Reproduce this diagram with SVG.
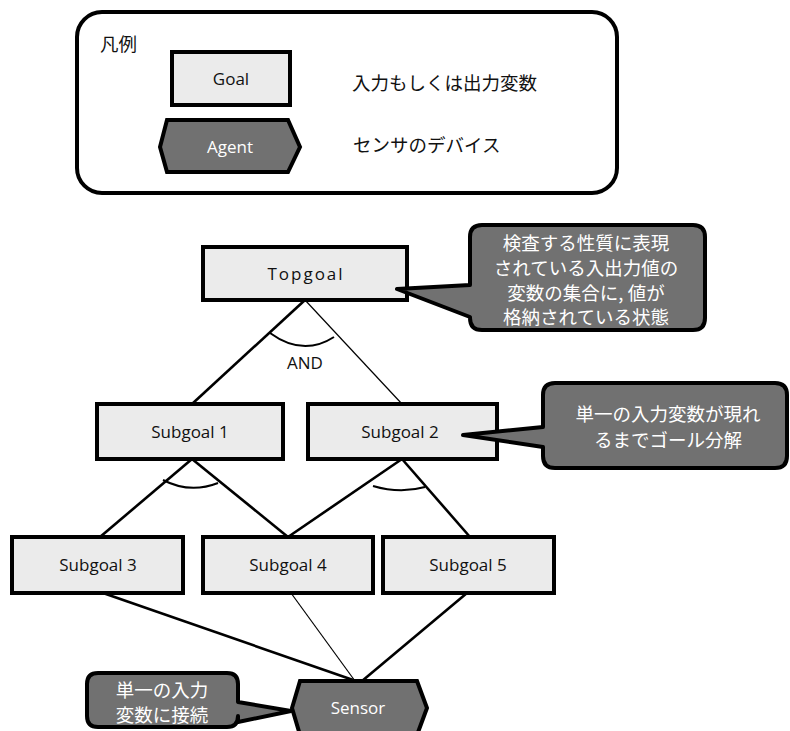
<svg xmlns="http://www.w3.org/2000/svg" width="790" height="731" viewBox="0 0 790 731">
  <style>
    .goal { fill: #ebebeb; stroke: #000; stroke-width: 4; }
    .agent { fill: #717171; stroke: #000; stroke-width: 4; stroke-linejoin: miter; }
    .callout { fill: #717171; stroke: #000; stroke-width: 4; stroke-linejoin: round; }
    .lbl { font-family: "Open Sans", "Liberation Sans", sans-serif; font-size: 17px; fill: #111; text-anchor: middle; }
    .lbl-w { font-family: "Open Sans", "Liberation Sans", sans-serif; font-size: 17px; fill: #fff; text-anchor: middle; }
    .jp { font-family: "Noto Sans CJK JP", sans-serif; font-size: 18.5px; fill: #111; }
    .jp-w { font-family: "Noto Sans CJK JP", sans-serif; font-size: 18.5px; fill: #fff; text-anchor: middle; }
    .thick { stroke: #000; stroke-width: 2.6; fill: none; }
    .thin { stroke: #000; stroke-width: 1.2; fill: none; }
    .arc { stroke: #000; stroke-width: 2; fill: none; }
  </style>

  <!-- legend -->
  <g id="legend">
    <rect x="77" y="12" width="540" height="181" rx="25" ry="25" fill="#fff" stroke="#000" stroke-width="4"/>
    <text class="jp" x="100" y="51" font-size="17">凡例</text>
    <rect class="goal" x="172" y="52" width="118" height="53"/>
    <text class="lbl" x="231" y="85">Goal</text>
    <text class="jp" x="352" y="90">入力もしくは出力変数</text>
    <polygon class="agent" points="160,147 167,120 288,120 300,147 288,172 167,172"/>
    <text class="lbl-w" x="230" y="153">Agent</text>
    <text class="jp" x="353" y="152">センサのデバイス</text>
  </g>

  <!-- connectors -->
  <g id="connectors">
    <line class="thick" x1="305" y1="300" x2="192" y2="404"/>
    <line class="thin" x1="305" y1="300" x2="402" y2="404"/>
    <path class="arc" d="M270,333 Q303,357 334,337"/>
    <text class="lbl" x="305" y="369" font-size="16">AND</text>

    <line class="thick" x1="192" y1="459" x2="100" y2="537"/>
    <line class="thick" x1="192" y1="459" x2="288" y2="537"/>
    <path class="arc" d="M163,480 Q190,494 218,483"/>

    <line class="thick" x1="402" y1="459" x2="288" y2="537"/>
    <line class="thick" x1="402" y1="459" x2="470" y2="537"/>
    <path class="arc" d="M373,486 Q400,494 425,487"/>

    <line class="thick" x1="103" y1="593" x2="356" y2="681"/>
    <line class="thin" x1="291" y1="593" x2="355" y2="681"/>
    <line class="thick" x1="467" y1="593" x2="362" y2="681"/>
  </g>

  <!-- goal tree -->
  <g id="topgoal">
    <rect class="goal" x="203" y="247" width="204" height="53"/>
    <text class="lbl" x="306" y="280" letter-spacing="2">Topgoal</text>
  </g>
  <g id="subgoal1">
    <rect class="goal" x="97" y="404" width="186" height="55"/>
    <text class="lbl" x="190" y="438">Subgoal 1</text>
  </g>
  <g id="subgoal2">
    <rect class="goal" x="308" y="404" width="189" height="55"/>
    <text class="lbl" x="400" y="438">Subgoal 2</text>
  </g>
  <g id="subgoal3">
    <rect class="goal" x="12" y="537" width="171" height="56"/>
    <text class="lbl" x="98" y="571">Subgoal 3</text>
  </g>
  <g id="subgoal4">
    <rect class="goal" x="203" y="537" width="170" height="56"/>
    <text class="lbl" x="288" y="571">Subgoal 4</text>
  </g>
  <g id="subgoal5">
    <rect class="goal" x="383" y="537" width="171" height="56"/>
    <text class="lbl" x="468" y="571">Subgoal 5</text>
  </g>
  <g id="sensor">
    <polygon class="agent" points="292,708 300,681 417,681 427,708 417,735 300,735"/>
    <text class="lbl-w" x="358" y="714">Sensor</text>
  </g>

  <!-- callouts -->
  <g id="note-topgoal">
    <path class="callout" d="M482,225 H693 Q705,225 705,237 V318 Q705,330 693,330 H482 Q470,330 470,318 V317 L397,289 L470,285 V237 Q470,225 482,225 Z"/>
    <text class="jp-w" x="586" y="250">検査する性質に表現</text>
    <text class="jp-w" x="586" y="275">されている入出力値の</text>
    <text class="jp-w" x="586" y="300">変数の集合に, 値が</text>
    <text class="jp-w" x="586" y="324">格納されている状態</text>
  </g>
  <g id="note-subgoal">
    <path class="callout" d="M555,383 H775 Q787,383 787,395 V456 Q787,468 775,468 H555 Q543,468 543,456 V447 L463,435 L543,427 V395 Q543,383 555,383 Z"/>
    <text class="jp-w" x="668" y="421">単一の入力変数が現れ</text>
    <text class="jp-w" x="668" y="447">るまでゴール分解</text>
  </g>
  <g id="note-sensor">
    <path class="callout" d="M98,673 H227 Q238,673 238,684 V702 L291,711 L238,722 V716 Q238,727 227,727 H98 Q87,727 87,716 V684 Q87,673 98,673 Z"/>
    <text class="jp-w" x="162" y="697" font-size="17">単一の入力</text>
    <text class="jp-w" x="162" y="722" font-size="17">変数に接続</text>
  </g>
</svg>
